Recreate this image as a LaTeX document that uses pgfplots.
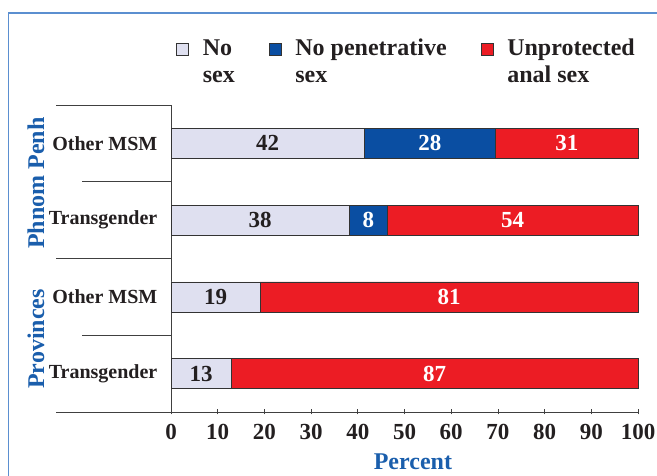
\documentclass[border=0pt]{standalone}
\usepackage{pgfplots}
\usepackage{pgfplotstable}
\pgfplotsset{compat=1.18}
\usepackage{fontspec}
\setmainfont{Liberation Serif}
\definecolor{lav}{HTML}{DFE0F0}
\definecolor{cblue}{HTML}{0A4EA2}
\definecolor{cred}{HTML}{EC1C24}
\definecolor{tblue}{HTML}{1A5EAC}
\definecolor{framec}{HTML}{5B8FD0}
\definecolor{txt}{HTML}{231F20}
\pgfplotstableread{
y nosex nopen unprot
4 41.4 28.1 30.5
3 38.2 8.1 53.7
2 19.1 0 80.9
1 12.9 0 87.1
}\bars
\pgfplotstableread{
x y label
20.7 4 42
19.1 3 38
9.55 2 19
6.45 1 13
}\darklabels
\pgfplotstableread{
x y label
55.45 4 28
84.75 4 31
42.25 3 8
73.15 3 54
59.55 2 81
56.45 1 87
}\whitelabels
\newcommand{\tickfont}{\fontsize{23bp}{27bp}\selectfont\bfseries}
\newcommand{\catfont}{\fontsize{20bp}{24bp}\selectfont\bfseries}
\newcommand{\legfont}{\fontsize{24bp}{27bp}\selectfont\bfseries}
\begin{document}
\begin{tikzpicture}[x=1bp,y=1bp]
\path[use as bounding box] (0,0) rectangle (657,476);
\draw[framec, line width=1.5bp] (8.5,-5) -- (8.5,463) -- (670,463);
\begin{axis}[
  at={(171bp,64bp)}, anchor=south west,
  width=467bp, height=307bp, scale only axis,
  xbar stacked, bar width=30bp,
  xmin=0, xmax=100, ymin=0.5, ymax=4.5,
  axis x line*=bottom, axis y line*=left,
  axis line style={draw=black!75, line width=0.8bp, -},
  xtick={0,10,...,100},
  ytick={1,2,3,4},
  yticklabels={Transgender, Other MSM, Transgender, Other MSM},
  ytick style={draw=none},
  xtick style={draw=black!75, line width=0.8bp},
  tick align=center, major tick length=5bp,
  /pgf/number format/assume math mode=true,
  xticklabel style={font=\tickfont, text=txt, inner sep=0pt, yshift=-10bp},
  yticklabel style={font=\catfont, text=txt, inner sep=0pt, xshift=-11bp},
  xlabel={Percent},
  xlabel style={font=\legfont, text=tblue, at={(axis description cs:0.518,0)}, anchor=base, yshift=-58bp},
  clip=false,
  legend columns=3,
  legend style={draw=none, fill=none, inner sep=0pt, font=\legfont, text=txt,
    at={(axis description cs:0,1)}, anchor=north west, xshift=5bp, yshift=69bp,
    cells={anchor=base west}, nodes={inner sep=0pt},
    /tikz/every odd column/.append style={column sep=14bp},
    /tikz/every even column/.append style={column sep=34bp}},
  sq/.style={legend image code/.code={\draw[##1, line width=0.6bp] (0bp,0bp) rectangle (12bp,12bp);}},
]
\addplot[fill=lav, draw=black!80, line width=0.5bp, sq] table[x=nosex, y=y] {\bars};
\addlegendentry{\begin{tabular}[t]{@{}l@{}}No\\sex\end{tabular}}
\addplot[fill=cblue, draw=black!80, line width=0.5bp, sq] table[x=nopen, y=y] {\bars};
\addlegendentry{\begin{tabular}[t]{@{}l@{}}No penetrative\\sex\end{tabular}}
\addplot[fill=cred, draw=black!80, line width=0.5bp, sq] table[x=unprot, y=y] {\bars};
\addlegendentry{\begin{tabular}[t]{@{}l@{}}Unprotected\\anal sex\end{tabular}}
\draw[black!75, line width=0.8bp] (axis cs:0,4.5) -- ++(-115bp,0pt);
\draw[black!75, line width=0.8bp] (axis cs:0,3.5) -- ++(-89bp,0pt);
\draw[black!75, line width=0.8bp] (axis cs:0,2.5) -- ++(-115bp,0pt);
\draw[black!75, line width=0.8bp] (axis cs:0,1.5) -- ++(-89bp,0pt);
\draw[black!75, line width=0.8bp] (axis cs:0,0.5) -- ++(-115bp,0pt);
\node[rotate=90, text=tblue, font=\legfont] at ([xshift=-135bp]axis cs:0,3.48) {Phnom Penh};
\node[rotate=90, text=tblue, font=\legfont] at ([xshift=-135bp]axis cs:0,1.45) {Provinces};
\end{axis}
\begin{axis}[
  at={(171bp,64bp)}, anchor=south west,
  width=467bp, height=307bp, scale only axis,
  xmin=0, xmax=100, ymin=0.5, ymax=4.5,
  hide axis, clip=false,
]
\addplot[draw=none, nodes near coords, point meta=explicit symbolic,
  every node near coord/.append style={anchor=center, text=txt, font=\tickfont}]
  table[x=x, y=y, meta=label] {\darklabels};
\addplot[draw=none, nodes near coords, point meta=explicit symbolic,
  every node near coord/.append style={anchor=center, text=white, font=\tickfont}]
  table[x=x, y=y, meta=label] {\whitelabels};
\end{axis}
\end{tikzpicture}
\end{document}
